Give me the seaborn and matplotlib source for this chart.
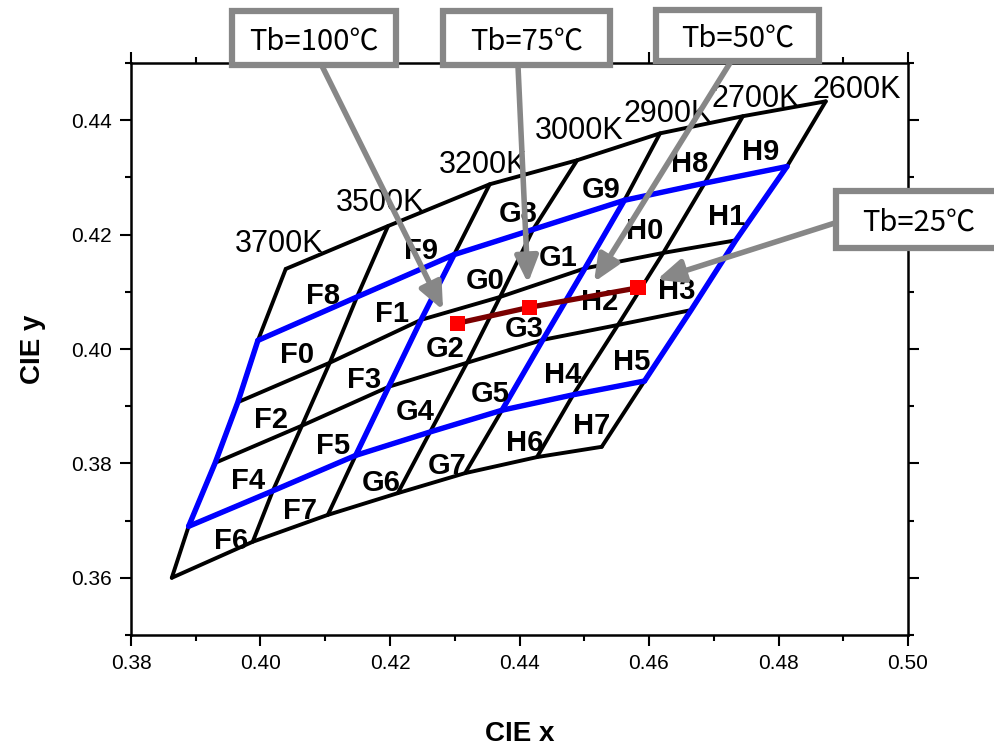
import matplotlib
matplotlib.use("Agg")
import matplotlib.pyplot as plt
import seaborn as sns
from matplotlib.patches import Rectangle
from matplotlib.ticker import MultipleLocator, FormatStrFormatter

# bin grid vertices: rows top->bottom, columns 3700K -> 2600K
grid_x = [
    [0.4039, 0.4197, 0.4354, 0.4489, 0.4617, 0.4745, 0.4873],
    [0.3996, 0.4149, 0.4299, 0.4421, 0.4562, 0.4686, 0.4813],
    [0.3965, 0.4107, 0.4248, 0.4370, 0.4501, 0.4622, 0.4734],
    [0.3930, 0.4064, 0.4198, 0.4319, 0.4436, 0.4552, 0.4665],
    [0.3889, 0.4019, 0.4147, 0.4262, 0.4373, 0.4483, 0.4593],
    [0.3863, 0.3988, 0.4104, 0.4212, 0.4316, 0.4427, 0.4527],
]
grid_y = [
    [0.4140, 0.4215, 0.4288, 0.4330, 0.4377, 0.4407, 0.4433],
    [0.4015, 0.4091, 0.4165, 0.4209, 0.4260, 0.4290, 0.4319],
    [0.3907, 0.3976, 0.4051, 0.4091, 0.4141, 0.4168, 0.4190],
    [0.3801, 0.3866, 0.3934, 0.3976, 0.4016, 0.4042, 0.4068],
    [0.3690, 0.3752, 0.3814, 0.3855, 0.3893, 0.3920, 0.3944],
    [0.3600, 0.3663, 0.3710, 0.3748, 0.3783, 0.3811, 0.3829],
]
# ANSI quadrangle outlines (blue): rows 1 and 4, columns 0,2,4,6 between rows 1..4
blue_rows = [1, 4]
blue_cols = [0, 2, 4, 6]

cct_labels = ["3700K", "3500K", "3200K", "3000K", "2900K", "2700K", "2600K"]
cct_x = [0.4029, 0.4185, 0.4344, 0.4493, 0.4629, 0.4765, 0.4921]
cct_y = [0.4189, 0.4262, 0.4328, 0.4388, 0.4417, 0.4444, 0.4459]

bin_labels = ["F8", "F9", "F0", "F1", "F2", "F3", "F4", "F5", "F6", "F7",
              "G8", "G9", "G0", "G1", "G2", "G3", "G4", "G5", "G6", "G7",
              "H8", "H9", "H0", "H1", "H2", "H3", "H4", "H5", "H6", "H7"]
bin_x = [0.4097, 0.4248, 0.4056, 0.4203, 0.4016, 0.4160, 0.3981, 0.4112, 0.3954, 0.4061,
         0.4398, 0.4526, 0.4347, 0.4459, 0.4285, 0.4407, 0.4239, 0.4354, 0.4186, 0.4288,
         0.4663, 0.4773, 0.4594, 0.4720, 0.4524, 0.4643, 0.4466, 0.4574, 0.4408, 0.4512]
bin_y = [0.4098, 0.4176, 0.3995, 0.4066, 0.3881, 0.3951, 0.3775, 0.3836, 0.3670, 0.3722,
         0.4241, 0.4283, 0.4124, 0.4164, 0.4005, 0.4040, 0.3895, 0.3927, 0.3771, 0.3801,
         0.4328, 0.4349, 0.4211, 0.4236, 0.4087, 0.4107, 0.3960, 0.3983, 0.3841, 0.3871]

# measured chromaticity shift with board temperature
tb_labels = ["Tb=100℃", "Tb=75℃", "Tb=50℃", "Tb=25℃"]
meas_x = [0.4304, 0.4416, 0.4583]
meas_y = [0.4045, 0.4073, 0.4107]
arrow_tip_x = [0.4282, 0.4413, 0.4515, 0.4612]
arrow_tip_y = [0.4068, 0.4115, 0.4117, 0.4121]

# callout boxes in image pixels (x0, y0, x1, y1) and arrow tails
W, H = 994, 749
boxes = [(232, 11, 396, 65), (443, 11, 610, 65), (656, 10, 819, 61), (836, 191, 1002, 248)]
tails = [(322, 66), (518, 66), (730, 63), (838, 222)]


def fig_xy(px, py):
    return px / W, 1 - py / H


sns.set_theme(style="ticks")
plt.rcParams["font.family"] = ["Liberation Sans", "DejaVu Sans"]
plt.rcParams["lines.solid_joinstyle"] = "miter"
for key in ["text.color", "axes.labelcolor", "xtick.color", "ytick.color"]:
    plt.rcParams[key] = "black"

fig, ax = plt.subplots(figsize=(9.94, 7.49), dpi=100)
fig.subplots_adjust(left=131 / W, right=908 / W, bottom=1 - 635 / H, top=1 - 63 / H)

nrow, ncol = len(grid_x), len(grid_x[0])
for j in range(nrow):
    sns.lineplot(x=grid_x[j], y=grid_y[j], sort=False, estimator=None,
                 color="black", lw=2.8, ax=ax)
for i in range(ncol):
    sns.lineplot(x=[r[i] for r in grid_x], y=[r[i] for r in grid_y], sort=False,
                 estimator=None, color="black", lw=2.8, ax=ax)

for j in blue_rows:
    sns.lineplot(x=grid_x[j], y=grid_y[j], sort=False, estimator=None,
                 color="#0000ff", lw=3.9, ax=ax)
for i in blue_cols:
    sns.lineplot(x=[grid_x[j][i] for j in range(1, 5)],
                 y=[grid_y[j][i] for j in range(1, 5)], sort=False,
                 estimator=None, color="#0000ff", lw=3.9, ax=ax)

for name, x, y in zip(bin_labels, bin_x, bin_y):
    ax.text(x, y, name, ha="center", va="center_baseline", fontsize=21,
            fontweight="bold", zorder=4)
for name, x, y in zip(cct_labels, cct_x, cct_y):
    ax.text(x, y, name, ha="center", va="center_baseline", fontsize=22, zorder=4)

sns.lineplot(x=meas_x, y=meas_y, sort=False, estimator=None, color="#7a0000",
             lw=3.8, ax=ax, zorder=5)
sns.scatterplot(x=meas_x, y=meas_y, marker="s", s=120, color="#ff0000",
                edgecolor="none", ax=ax, zorder=6)

gray = "#878787"
for (tx, ty), tip_x, tip_y in zip(tails, arrow_tip_x, arrow_tip_y):
    ax.annotate("", xy=(tip_x, tip_y), xycoords="data",
                xytext=fig_xy(tx, ty), textcoords="figure fraction",
                arrowprops=dict(arrowstyle="-|>,head_length=0.8,head_width=0.35",
                                color=gray, lw=4, shrinkA=0, shrinkB=0,
                                mutation_scale=20), zorder=7)

for label, (x0, y0, x1, y1) in zip(tb_labels, boxes):
    fx0, fy1 = fig_xy(x0, y0)
    fx1, fy0 = fig_xy(x1, y1)
    fig.add_artist(Rectangle((fx0, fy0), fx1 - fx0, fy1 - fy0,
                             transform=fig.transFigure, facecolor="white",
                             edgecolor=gray, lw=4.5, zorder=5))
    fig.text((fx0 + fx1) / 2, (fy0 + fy1) / 2, label, ha="center",
             va="center_baseline", fontsize=21, zorder=6,
             family=["Liberation Sans Narrow", "Noto Sans CJK SC", "DejaVu Sans"])

ax.set_xlim(0.38, 0.50)
ax.set_ylim(0.35, 0.45)
ax.xaxis.set_major_locator(MultipleLocator(0.02))
ax.xaxis.set_minor_locator(MultipleLocator(0.01))
ax.yaxis.set_major_locator(MultipleLocator(0.02))
ax.yaxis.set_minor_locator(MultipleLocator(0.01))
ax.xaxis.set_major_formatter(FormatStrFormatter("%.2f"))
ax.yaxis.set_major_formatter(FormatStrFormatter("%.2f"))
ax.tick_params(which="both", direction="out", top=True, right=True,
               labeltop=False, labelright=False, color="black", width=1.5)
ax.tick_params(which="major", length=8, labelsize=15, pad=6)
ax.tick_params(which="minor", length=4.5)
for sp in ax.spines.values():
    sp.set_visible(True)
    sp.set_linewidth(1.8)
    sp.set_color("black")

ax.set_xlabel("CIE x", fontsize=20, fontweight="bold")
ax.set_ylabel("CIE y", fontsize=20, fontweight="bold")
ax.xaxis.set_label_coords(0.5, -0.15)
ax.yaxis.set_label_coords(-0.11, 0.5)

fig.savefig("out.png", dpi=100)
